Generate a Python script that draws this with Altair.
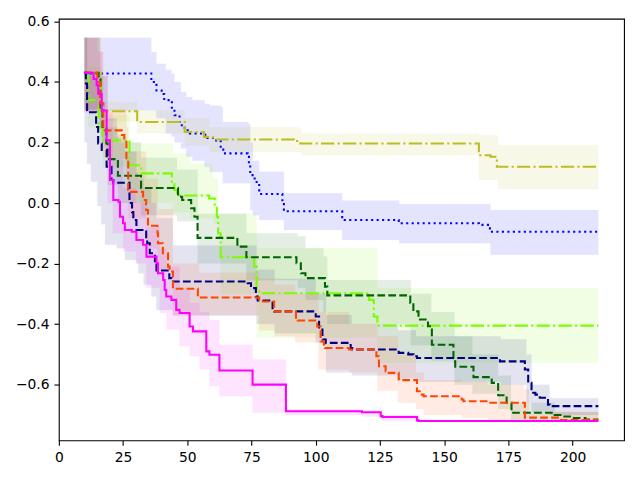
import altair as alt
import pandas as pd

# ---------------- data ----------------
x_ticks = [0, 25, 50, 75, 100, 125, 150, 175, 200]
y_ticks = [-0.6, -0.4, -0.2, 0.0, 0.2, 0.4, 0.6]

# blue dotted
blue_x = [10, 36, 38, 40, 41, 44, 45, 47, 49, 51, 57, 60, 63, 64, 73.5, 74, 74.5, 75.4, 77, 78, 87, 87.6, 110.3, 132.3, 163.5, 167.8, 210]
blue_y = [0.428, 0.40, 0.372, 0.36, 0.34, 0.31, 0.29, 0.257, 0.24, 0.23, 0.215, 0.207, 0.18, 0.164, 0.153, 0.131, 0.098, 0.081, 0.065, 0.03, 0.004, -0.027, -0.056, -0.067, -0.072, -0.095, -0.095]
blue_bx = [10, 36, 38, 41.6, 43.8, 45, 47.5, 49.6, 52, 56.7, 58.7, 63, 63.8, 73.5, 74.5, 75.5, 78, 87.6, 110.3, 132.5, 168, 210]
blue_hi = [0.546, 0.498, 0.46, 0.44, 0.427, 0.40, 0.367, 0.35, 0.34, 0.328, 0.322, 0.317, 0.268, 0.263, 0.20, 0.14, 0.103, 0.032, 0.008, -0.003, -0.023, -0.023]
blue_lo = [0.306, 0.306, 0.28, 0.23, 0.22, 0.20, 0.18, 0.153, 0.14, 0.12, 0.103, 0.103, 0.065, 0.065, -0.023, -0.04, -0.056, -0.089, -0.122, -0.133, -0.171, -0.171]

# olive dash-dot
olive_x = [10, 16.5, 30.5, 49, 56.5, 60, 91.5, 94, 163.5, 168, 170.5, 210]
olive_y = [0.43, 0.303, 0.268, 0.235, 0.218, 0.21, 0.205, 0.197, 0.158, 0.153, 0.12, 0.12]
olive_bx = [10, 16.5, 30.5, 49, 58.7, 93, 94.5, 163.5, 169, 171, 210]
olive_hi = [0.546, 0.334, 0.306, 0.28, 0.251, 0.246, 0.23, 0.224, 0.224, 0.191, 0.191]
olive_lo = [0.31, 0.27, 0.23, 0.19, 0.169, 0.169, 0.158, 0.076, 0.076, 0.046, 0.046]

# lawngreen dash-dot
lawn_x = [10, 11.5, 15.5, 17, 27.5, 32, 44, 45, 46, 58.5, 60.7, 61.5, 62, 63, 76, 77, 78, 120.7, 122.6, 124, 124.5, 210]
lawn_y = [0.42, 0.34, 0.25, 0.207, 0.125, 0.098, 0.07, 0.043, 0.025, 0.015, -0.012, -0.045, -0.1, -0.179, -0.21, -0.292, -0.298, -0.32, -0.375, -0.40, -0.405, -0.405]
lawn_bx = [10, 11.5, 17, 27.5, 31.5, 44.4, 51, 60, 62, 63, 77, 124, 210]
lawn_hi = [0.546, 0.45, 0.29, 0.20, 0.197, 0.164, 0.131, 0.08, -0.035, -0.035, -0.149, -0.281, -0.281]
lawn_lo = [0.31, 0.25, 0.12, 0.05, 0.0, -0.03, -0.05, -0.07, -0.12, -0.30, -0.445, -0.528, -0.528]

# darkgreen dashed
dg_x = [10, 15.5, 16.2, 17, 18.5, 19, 23, 32, 46.4, 48, 51.5, 52.8, 54, 69.5, 73, 92.5, 94.2, 96, 103.6, 104.5, 136.8, 138, 140, 143.7, 145.2, 153.6, 154.3, 161.4, 168.5, 171, 174.3, 176.2, 193, 196, 200, 205, 210]
dg_y = [0.43, 0.41, 0.306, 0.251, 0.197, 0.145, 0.09, 0.05, 0.021, 0.01, -0.017, -0.045, -0.115, -0.144, -0.179, -0.199, -0.232, -0.248, -0.276, -0.305, -0.33, -0.358, -0.385, -0.407, -0.468, -0.523, -0.541, -0.575, -0.594, -0.635, -0.66, -0.693, -0.70, -0.705, -0.71, -0.715, -0.715]
dg_bx = [10, 16, 19, 23, 32, 46, 54, 73, 93, 96, 103, 104.5, 137, 145, 154, 161, 171, 176, 193, 210]
dg_hi = [0.546, 0.42, 0.25, 0.20, 0.15, 0.11, -0.035, -0.10, -0.11, -0.149, -0.177, -0.254, -0.30, -0.36, -0.44, -0.50, -0.57, -0.66, -0.69, -0.69]
dg_lo = [0.31, 0.20, 0.06, 0.0, -0.04, -0.06, -0.20, -0.255, -0.28, -0.32, -0.36, -0.40, -0.47, -0.52, -0.60, -0.63, -0.68, -0.72, -0.72, -0.72]

# navy dashed
navy_x = [10, 10.5, 11, 14.5, 15.3, 16.7, 18.6, 20.5, 21.2, 27.5, 28.5, 29, 30.2, 34, 34.4, 35.4, 37.4, 38, 43, 43.8, 73.5, 74.8, 76.7, 77.4, 83.2, 83.8, 100, 101.3, 102.6, 103.9, 113.6, 114.2, 132.3, 136, 138.1, 139.4, 171.7, 181.4, 182.7, 184, 185.5, 187.2, 190.4, 191.1, 210]
navy_y = [0.43, 0.395, 0.30, 0.251, 0.197, 0.175, 0.12, 0.076, 0.067, 0.0, -0.03, -0.056, -0.089, -0.122, -0.133, -0.166, -0.199, -0.223, -0.248, -0.259, -0.265, -0.281, -0.309, -0.322, -0.353, -0.358, -0.375, -0.418, -0.451, -0.462, -0.479, -0.484, -0.495, -0.50, -0.506, -0.512, -0.523, -0.55, -0.594, -0.627, -0.633, -0.643, -0.666, -0.671, -0.671]
navy_bx = [10, 11, 12.5, 15, 16.5, 18, 22.5, 25.7, 30.2, 30.9, 33, 36, 38, 44.4, 77, 84, 100, 104, 114, 132, 139, 172, 182, 184, 191, 210]
navy_hi = [0.546, 0.43, 0.42, 0.40, 0.33, 0.28, 0.22, 0.17, 0.10, 0.08, 0.05, 0.0, -0.05, -0.14, -0.22, -0.25, -0.30, -0.37, -0.40, -0.42, -0.44, -0.45, -0.50, -0.60, -0.645, -0.645]
navy_lo = [0.20, 0.13, 0.07, -0.01, -0.07, -0.138, -0.149, -0.188, -0.199, -0.232, -0.27, -0.309, -0.353, -0.372, -0.40, -0.43, -0.46, -0.56, -0.57, -0.58, -0.59, -0.60, -0.66, -0.69, -0.70, -0.70]

# orangered dashed
or_x = [10, 15, 16, 17.3, 24.5, 25.5, 26.3, 27, 27.6, 32.8, 34, 34.7, 38.4, 38.6, 40.5, 42.5, 43.1, 44.4, 54.1, 54.6, 78, 83.8, 92.3, 92.9, 100.6, 101.9, 103.2, 103.5, 113, 123.6, 124.6, 127.2, 127.8, 132.3, 132.5, 139.4, 141.3, 142, 156.8, 157.5, 167.2, 181.4, 194.3, 195, 210]
or_y = [0.43, 0.40, 0.33, 0.24, 0.225, 0.213, 0.142, 0.043, 0.037, 0.01, -0.023, -0.075, -0.1, -0.133, -0.166, -0.21, -0.226, -0.283, -0.309, -0.312, -0.325, -0.358, -0.386, -0.388, -0.408, -0.457, -0.468, -0.479, -0.484, -0.506, -0.539, -0.556, -0.561, -0.583, -0.585, -0.622, -0.633, -0.638, -0.649, -0.655, -0.66, -0.709, -0.715, -0.717, -0.717]
or_bx = [10, 16, 17.3, 26.3, 27, 34, 38.5, 44.4, 54.6, 78, 84, 92, 101, 113, 124, 132, 139, 142, 157, 167, 181, 183, 210]
or_hi = [0.546, 0.50, 0.31, 0.25, 0.17, 0.08, -0.02, -0.20, -0.23, -0.25, -0.27, -0.30, -0.36, -0.40, -0.44, -0.50, -0.56, -0.585, -0.59, -0.60, -0.616, -0.69, -0.69]
or_lo = [0.30, 0.25, 0.15, 0.10, -0.05, -0.15, -0.22, -0.37, -0.37, -0.42, -0.44, -0.46, -0.55, -0.56, -0.62, -0.66, -0.68, -0.70, -0.71, -0.72, -0.72, -0.72, -0.72]

# magenta solid
mag_x = [10, 11, 13.5, 14.7, 15.3, 16.7, 18.6, 19.9, 21.2, 23.2, 23.8, 25, 25.7, 28.4, 30.2, 32.8, 34.1, 38, 38.6, 40.6, 41.2, 41.8, 43.8, 45.7, 47, 50.9, 52.2, 57.4, 58.6, 62.5, 75.4, 88.4, 118, 125.3, 126, 139.4, 140, 210]
mag_y = [0.43, 0.43, 0.41, 0.389, 0.361, 0.306, 0.207, 0.076, 0.01, 0.004, -0.045, -0.067, -0.089, -0.095, -0.122, -0.138, -0.177, -0.199, -0.232, -0.254, -0.287, -0.309, -0.32, -0.353, -0.363, -0.408, -0.424, -0.49, -0.501, -0.553, -0.60, -0.688, -0.691, -0.704, -0.707, -0.718, -0.72, -0.72]
mag_bx = [10, 15, 17, 19, 21, 25, 30, 34, 39.3, 41.9, 47, 50.9, 54.8, 58.6, 62.5, 75.4, 88.4, 118, 126, 140, 210]
mag_hi = [0.546, 0.50, 0.42, 0.30, 0.15, 0.05, 0.0, -0.08, -0.15, -0.21, -0.28, -0.33, -0.36, -0.386, -0.468, -0.517, -0.682, -0.685, -0.70, -0.718, -0.718]
mag_lo = [0.30, 0.25, 0.18, 0.0, -0.10, -0.16, -0.20, -0.28, -0.363, -0.418, -0.473, -0.506, -0.55, -0.605, -0.638, -0.693, -0.70, -0.705, -0.72, -0.72, -0.72]

# ---------------- styling ----------------
DOT = [2.1, 3.4]
DASH = [7.7, 3.3]
DASHDOT = [13.3, 3.3, 2.1, 3.3]

series = [
    ("#0000ff", DOT, blue_x, blue_y, blue_bx, blue_lo, blue_hi),
    ("#bcbd22", DASHDOT, olive_x, olive_y, olive_bx, olive_lo, olive_hi),
    ("#7cfc00", DASHDOT, lawn_x, lawn_y, lawn_bx, lawn_lo, lawn_hi),
    ("#006400", DASH, dg_x, dg_y, dg_bx, dg_lo, dg_hi),
    ("#000080", DASH, navy_x, navy_y, navy_bx, navy_lo, navy_hi),
    ("#ff4500", DASH, or_x, or_y, or_bx, or_lo, or_hi),
    ("#ff00ff", None, mag_x, mag_y, mag_bx, mag_lo, mag_hi),
]

xs = alt.Scale(domain=[0, 220], nice=False, zero=False)
ys = alt.Scale(domain=[-0.784, 0.609], nice=False, zero=False)
xaxis = alt.Axis(values=x_ticks, format="d", title=None, grid=False, labelFlush=False)
yaxis = alt.Axis(values=y_ticks, format=".1f", title=None, grid=False, labelFlush=False)

layers = []
for color, dash, lx, ly, bx, lo, hi in series:
    band = pd.DataFrame({"x": bx, "lo": lo, "hi": hi})
    layers.append(
        alt.Chart(band).mark_area(
            interpolate="step-after", color=color, opacity=0.1,
            stroke=color, strokeWidth=1, strokeOpacity=0.12
        ).encode(
            x=alt.X("x:Q", scale=xs, axis=xaxis),
            y=alt.Y("lo:Q", scale=ys, axis=yaxis),
            y2="hi:Q",
        )
    )
for color, dash, lx, ly, bx, lo, hi in series:
    line = pd.DataFrame({"x": lx, "y": ly})
    kw = dict(interpolate="step-after", color=color, strokeWidth=2.08)
    if dash is not None:
        kw["strokeDash"] = dash
    layers.append(
        alt.Chart(line).mark_line(**kw).encode(
            x=alt.X("x:Q", scale=xs, axis=xaxis),
            y=alt.Y("y:Q", scale=ys, axis=yaxis),
        )
    )

chart = alt.layer(*layers).properties(
    width=567, height=423,
    autosize=alt.AutoSizeParams(type="none"),
    padding={"left": 51, "top": 10, "right": 8, "bottom": 30},
).configure_view(
    stroke="black", strokeWidth=1.1
).configure_axis(
    domain=False, ticks=True, tickColor="black", tickWidth=1.1, tickSize=4.9,
    labelFont="DejaVu Sans", labelFontSize=13.9, labelColor="black", labelPadding=4.9,
    labelFlush=False,
)

chart.save("out.html", embed_options={"renderer": "svg", "actions": False})
